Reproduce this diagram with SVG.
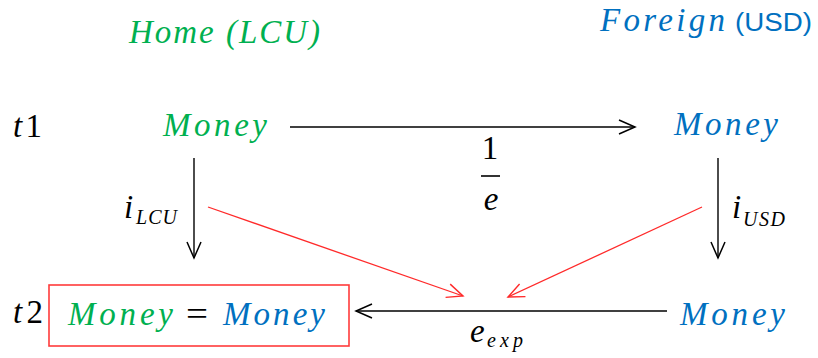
<svg xmlns="http://www.w3.org/2000/svg" width="818" height="358" viewBox="0 0 818 358">
  <style>
    .m { font-family: "Liberation Serif", "DejaVu Serif", serif; font-style: italic; font-size: 33px; }
    .up { font-style: normal; }
    .g { fill: #00B050; }
    .b { fill: #0070C0; }
    .k { fill: #000000; }
    .sub { font-size: 20px; }
    .sans { font-family: "Liberation Sans", Arial, sans-serif; font-style: normal; font-size: 26px; }
    .blk { stroke: #000; stroke-width: 1.4; fill: none; }
    .red { stroke: #FF2A2A; stroke-width: 1.3; fill: none; }
  </style>
  <defs>
    <marker id="ak" viewBox="0 0 20 20" refX="18" refY="10" markerWidth="20" markerHeight="20" markerUnits="userSpaceOnUse" orient="auto">
      <path d="M2,3 L18,10 L2,17" fill="none" stroke="#000" stroke-width="1.5"/>
    </marker>
    <marker id="ar" viewBox="0 0 20 20" refX="18" refY="10" markerWidth="20" markerHeight="20" markerUnits="userSpaceOnUse" orient="auto">
      <path d="M2,3 L18,10 L2,17" fill="none" stroke="#FF2A2A" stroke-width="1.4"/>
    </marker>
  </defs>

  <g id="headers">
    <text class="m g" x="129" y="43" textLength="191" lengthAdjust="spacing">Home (LCU)</text>
    <text class="m b" x="600" y="31" textLength="125" lengthAdjust="spacing">Foreign</text>
    <text class="sans b" x="735" y="31" textLength="77" lengthAdjust="spacingAndGlyphs">(USD)</text>
  </g>

  <g id="time-labels">
    <text class="m k" x="13" y="137" textLength="29" lengthAdjust="spacing">t<tspan class="up">1</tspan></text>
    <text class="m k" x="13" y="323" textLength="30" lengthAdjust="spacing">t<tspan class="up">2</tspan></text>
  </g>

  <g id="home-t1">
    <text class="m g" x="163" y="136" textLength="104" lengthAdjust="spacing">Money</text>
  </g>
  <g id="foreign-t1">
    <text class="m b" x="674" y="135" textLength="104" lengthAdjust="spacing">Money</text>
  </g>
  <g id="foreign-t2">
    <text class="m b" x="680" y="325" textLength="105" lengthAdjust="spacing">Money</text>
  </g>
  <g id="result-t2">
    <rect x="49" y="285" width="300" height="61" fill="none" stroke="#FF3B3B" stroke-width="1.6"/>
    <text class="m g" x="68" y="325" textLength="105" lengthAdjust="spacing">Money</text>
    <text class="m k up" x="186" y="325" textLength="22" lengthAdjust="spacingAndGlyphs">=</text>
    <text class="m b" x="223" y="325" textLength="102" lengthAdjust="spacing">Money</text>
  </g>

  <g id="connectors">
    <line class="blk" x1="290" y1="127" x2="635" y2="127" marker-end="url(#ak)"/>
    <line class="blk" x1="194" y1="158" x2="194" y2="258" marker-end="url(#ak)"/>
    <line class="blk" x1="718" y1="158" x2="718" y2="258" marker-end="url(#ak)"/>
    <line class="blk" x1="667" y1="311" x2="356" y2="311" marker-end="url(#ak)"/>
    <line class="red" x1="208" y1="207" x2="463" y2="296" marker-end="url(#ar)"/>
    <line class="red" x1="702" y1="207" x2="508" y2="297" marker-end="url(#ar)"/>
  </g>

  <g id="connector-labels">
    <text class="m k up" x="490" y="159" text-anchor="middle">1</text>
    <line x1="481" y1="176" x2="500" y2="176" stroke="#000" stroke-width="1.6"/>
    <text class="m k" x="491" y="210" text-anchor="middle">e</text>

    <text class="m k" x="124" y="218">i</text>
    <text class="m k sub" x="136" y="224" textLength="41" lengthAdjust="spacing">LCU</text>

    <text class="m k" x="732" y="218">i</text>
    <text class="m k sub" x="743" y="226" textLength="42" lengthAdjust="spacing">USD</text>

    <text class="m k" x="470" y="342">e</text>
    <text class="m k sub" x="487" y="347" textLength="36" lengthAdjust="spacing">exp</text>
  </g>
</svg>
